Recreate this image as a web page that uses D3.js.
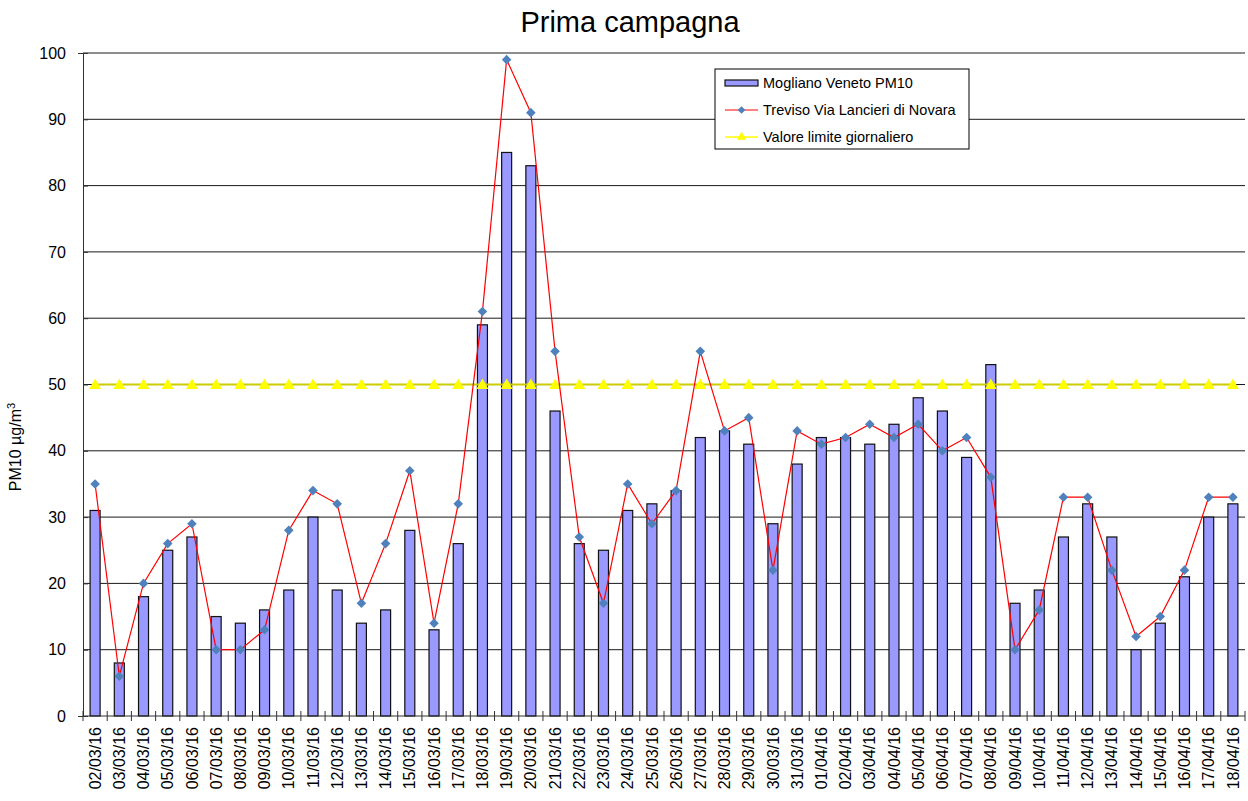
<!DOCTYPE html>
<html>
<head>
<meta charset="utf-8">
<script src="https://cdn.jsdelivr.net/npm/d3@7"></script>
<style>
  body { margin: 0; background: #fff; }
  text { font-family: "Liberation Sans", Arial, sans-serif; }
</style>
</head>
<body>
<svg id="chart" width="1248" height="801"></svg>
<script>
const dates = [
  "02/03/16","03/03/16","04/03/16","05/03/16","06/03/16","07/03/16","08/03/16","09/03/16",
  "10/03/16","11/03/16","12/03/16","13/03/16","14/03/16","15/03/16","16/03/16","17/03/16",
  "18/03/16","19/03/16","20/03/16","21/03/16","22/03/16","23/03/16","24/03/16","25/03/16",
  "26/03/16","27/03/16","28/03/16","29/03/16","30/03/16","31/03/16","01/04/16","02/04/16",
  "03/04/16","04/04/16","05/04/16","06/04/16","07/04/16","08/04/16","09/04/16","10/04/16",
  "11/04/16","12/04/16","13/04/16","14/04/16","15/04/16","16/04/16","17/04/16","18/04/16"
];
const mogliano = [
  31, 8, 18, 25, 27, 15, 14, 16, 19, 30, 19, 14, 16, 28, 13, 26,
  59, 85, 83, 46, 26, 25, 31, 32, 34, 42, 43, 41, 29, 38, 42, 42,
  41, 44, 48, 46, 39, 53, 17, 19, 27, 32, 27, 10, 14, 21, 30, 32
];
const treviso = [
  35, 6, 20, 26, 29, 10, 10, 13, 28, 34, 32, 17, 26, 37, 14, 32,
  61, 99, 91, 55, 27, 17, 35, 29, 34, 55, 43, 45, 22, 43, 41, 42,
  44, 42, 44, 40, 42, 36, 10, 16, 33, 33, 22, 12, 15, 22, 33, 33
];
const limite = dates.map(() => 50);
const yTicks = [0, 10, 20, 30, 40, 50, 60, 70, 80, 90, 100];
const legendLabels = ["Mogliano Veneto PM10", "Treviso Via Lancieri di Novara", "Valore limite giornaliero"];

const svg = d3.select("#chart");
const plotLeft = 83, plotRight = 1245, plotTop = 53, plotBottom = 716;

const x = d3.scaleBand().domain(dates).range([plotLeft, plotRight]).padding(0);
const y = d3.scaleLinear().domain([0, 100]).range([plotBottom, plotTop]);
const cx = d => x(d) + x.bandwidth() / 2;

// title
svg.append("text")
  .attr("x", 630).attr("y", 32)
  .attr("text-anchor", "middle")
  .style("font-size", "29px")
  .text("Prima campagna");

// gridlines
svg.append("g")
  .selectAll("line")
  .data(yTicks.filter(t => t > 0))
  .join("line")
  .attr("x1", plotLeft).attr("x2", plotRight)
  .attr("y1", d => y(d)).attr("y2", d => y(d))
  .attr("stroke", "#1a1a1a")
  .attr("stroke-width", 1);

// y axis
const yAxis = svg.append("g")
  .attr("transform", `translate(${plotLeft},0)`)
  .call(d3.axisLeft(y).tickValues(yTicks).tickSize(5).tickPadding(12));
yAxis.select(".domain").attr("stroke", "#333");
yAxis.selectAll(".tick line").attr("x2", 5).attr("stroke", "#333");
yAxis.selectAll(".tick text")
  .style("font-size", "16px")
  .style("font-family", "'Liberation Sans', Arial, sans-serif")
  .attr("fill", "#000");

// y axis title
const yt = svg.append("text")
  .attr("transform", "translate(21,447) rotate(-90)")
  .attr("text-anchor", "middle")
  .style("font-size", "16px");
yt.append("tspan").text("PM10 µg/m");
yt.append("tspan").attr("baseline-shift", "super").style("font-size", "11px").text("3");

// bars
svg.append("g")
  .selectAll("rect")
  .data(dates)
  .join("rect")
  .attr("x", d => cx(d) - 5)
  .attr("width", 10)
  .attr("y", (d, i) => y(mogliano[i]))
  .attr("height", (d, i) => y(0) - y(mogliano[i]))
  .attr("fill", "#9999ff")
  .attr("stroke", "#111")
  .attr("stroke-width", 1.2);

// x axis line and boundary ticks
svg.append("line")
  .attr("x1", plotLeft).attr("x2", plotRight)
  .attr("y1", plotBottom).attr("y2", plotBottom)
  .attr("stroke", "#333").attr("stroke-width", 1.2);
const bounds = dates.map(d => x(d)).concat([x(dates[dates.length - 1]) + x.bandwidth()]);
svg.append("g")
  .selectAll("line")
  .data(bounds)
  .join("line")
  .attr("x1", d => d).attr("x2", d => d)
  .attr("y1", plotBottom - 5).attr("y2", plotBottom + 5)
  .attr("stroke", "#333");

// x labels
svg.append("g")
  .selectAll("text")
  .data(dates)
  .join("text")
  .attr("transform", d => `translate(${cx(d)},727) rotate(-90)`)
  .attr("dy", "0.35em")
  .attr("text-anchor", "end")
  .style("font-size", "16px")
  .text(d => d);

// limit line
const line = d3.line().x((d, i) => cx(dates[i])).y(d => y(d));
svg.append("path")
  .attr("d", line(limite))
  .attr("fill", "none")
  .attr("stroke", "#cccc00")
  .attr("stroke-width", 2);
const tri = d3.symbol().type(d3.symbolTriangle).size(62);
svg.append("g")
  .selectAll("path")
  .data(limite)
  .join("path")
  .attr("transform", (d, i) => `translate(${cx(dates[i])},${y(d) + 1})`)
  .attr("d", tri)
  .attr("fill", "#ffff00");

// treviso line
svg.append("path")
  .attr("d", line(treviso))
  .attr("fill", "none")
  .attr("stroke", "#ff0000")
  .attr("stroke-width", 1.2);
const diamond = d3.symbol().type(d3.symbolSquare).size(46);
svg.append("g")
  .selectAll("path")
  .data(treviso)
  .join("path")
  .attr("transform", (d, i) => `translate(${cx(dates[i])},${y(d)}) rotate(45)`)
  .attr("d", diamond)
  .attr("fill", "#4f81bd");

// legend
const lg = svg.append("g").attr("transform", "translate(715,69)");
lg.append("rect")
  .attr("width", 254).attr("height", 80)
  .attr("fill", "#fff").attr("stroke", "#000").attr("stroke-width", 1);
const rowY = [14, 41, 68];
lg.append("rect")
  .attr("x", 10).attr("y", rowY[0] - 3).attr("width", 33).attr("height", 6)
  .attr("fill", "#9999ff").attr("stroke", "#111").attr("stroke-width", 1.2);
lg.append("line")
  .attr("x1", 10).attr("x2", 43).attr("y1", rowY[1]).attr("y2", rowY[1])
  .attr("stroke", "#ff0000");
lg.append("path")
  .attr("transform", `translate(26.5,${rowY[1]}) rotate(45)`)
  .attr("d", d3.symbol().type(d3.symbolSquare).size(30))
  .attr("fill", "#4f81bd");
lg.append("line")
  .attr("x1", 10).attr("x2", 43).attr("y1", rowY[2]).attr("y2", rowY[2])
  .attr("stroke", "#ffff00").attr("stroke-width", 1.5);
lg.append("path")
  .attr("transform", `translate(26.5,${rowY[2]})`)
  .attr("d", d3.symbol().type(d3.symbolTriangle).size(40))
  .attr("fill", "#ffff00");
lg.selectAll("text.lab")
  .data(legendLabels)
  .join("text")
  .attr("class", "lab")
  .attr("x", 48)
  .attr("y", (d, i) => rowY[i])
  .attr("dy", "0.36em")
  .style("font-size", "14.5px")
  .text(d => d);
</script>
</body>
</html>
